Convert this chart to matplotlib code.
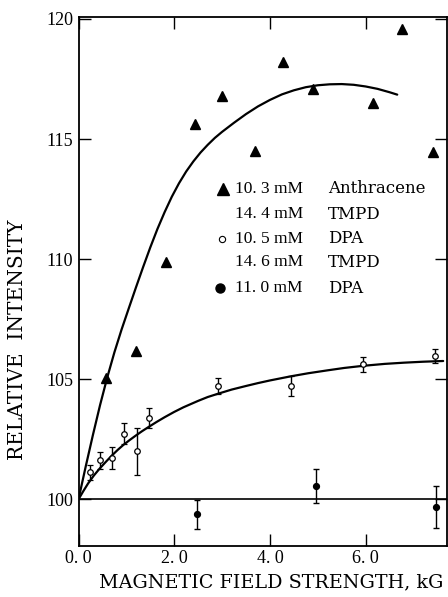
import matplotlib
matplotlib.use("Agg")
import matplotlib.pyplot as plt

# ---- data ----
anth_x = [0.57, 1.20, 1.82, 2.43, 2.99, 3.68, 4.28, 4.90, 6.15, 6.77, 7.41]
anth_y = [105.04, 106.18, 109.89, 115.61, 116.8, 114.5, 118.2, 117.1, 116.5, 119.6, 114.45]

anth_curve_x = [0, 0.15, 0.3, 0.45, 0.6, 0.75, 0.9, 1.05, 1.2, 1.35, 1.5, 1.65, 1.8,
                1.95, 2.1, 2.25, 2.4, 2.55, 2.7, 2.85, 3.0, 3.25, 3.5, 3.75, 4.0,
                4.25, 4.5, 4.75, 5.0, 5.25, 5.5, 5.75, 6.0, 6.25, 6.5, 6.66]
anth_curve_y = [100.0, 101.36, 102.67, 103.92, 105.07, 106.12, 107.07, 107.95, 108.82,
                109.67, 110.49, 111.26, 111.96, 112.6, 113.16, 113.65, 114.07, 114.44,
                114.76, 115.05, 115.30, 115.68, 116.04, 116.36, 116.63, 116.86, 117.03,
                117.16, 117.24, 117.28, 117.29, 117.26, 117.19, 117.09, 116.95, 116.85]

dpa_x = [0.24, 0.45, 0.71, 0.95, 1.22, 1.47, 2.92, 4.45, 5.95, 7.44]
dpa_y = [101.12, 101.62, 101.72, 102.74, 102.0, 103.37, 104.71, 104.71, 105.62, 105.97]
dpa_err = [0.33, 0.35, 0.45, 0.42, 0.97, 0.42, 0.33, 0.42, 0.31, 0.30]

dpa_curve_x = [0, 0.1, 0.2, 0.32, 0.45, 0.58, 0.7, 0.82, 0.94, 1.07, 1.2, 1.33, 1.47,
               1.63, 1.8, 2.0, 2.19, 2.35, 2.5, 2.7, 2.92, 3.2, 3.5, 3.75, 4.0,
               4.43, 4.8, 5.2, 5.55, 5.95, 6.4, 6.8, 7.2, 7.62]
dpa_curve_y = [100.0, 100.34, 100.66, 100.99, 101.3, 101.58, 101.83, 102.06, 102.27,
               102.47, 102.66, 102.84, 103.02, 103.22, 103.42, 103.64, 103.83, 103.97,
               104.1, 104.26, 104.4, 104.57, 104.72, 104.84, 104.95, 105.12, 105.25,
               105.37, 105.47, 105.56, 105.64, 105.69, 105.73, 105.76]

dot_x = [2.48, 4.97, 7.46]
dot_y = [99.375, 100.55, 99.68]
dot_err = [0.6, 0.7, 0.87]

baseline = 100

xticks = [0, 2, 4, 6]
xticklabels = ["0. 0", "2. 0", "4. 0", "6. 0"]
yticks = [100, 105, 110, 115, 120]
yticklabels = ["100", "105", "110", "115", "120"]

legend_conc = ["10. 3 mM", "14. 4 mM", "10. 5 mM", "14. 6 mM", "11. 0 mM"]
legend_names = ["Anthracene", "TMPD", "DPA", "TMPD", "DPA"]

W, H = 448, 597
fig = plt.figure(figsize=(W / 100, H / 100), dpi=100)
ax = fig.add_axes([78.5 / W, 1 - 545.7 / H, (447 - 78.5) / W, (545.7 - 17.3) / H])

ax.plot(anth_curve_x, anth_curve_y, color="black", lw=1.6, solid_capstyle="round",
        solid_joinstyle="round")
ax.plot(anth_x, anth_y, linestyle="none", marker="^", ms=7, color="black")
ax.plot(dpa_curve_x, dpa_curve_y, color="black", lw=1.6, solid_capstyle="round",
        solid_joinstyle="round")
ax.errorbar(dpa_x, dpa_y, yerr=dpa_err, fmt="o", ms=4, mfc="white", mec="black",
            mew=0.9, ecolor="black", elinewidth=1.0, capsize=2.5, capthick=1.0)
ax.errorbar(dot_x, dot_y, yerr=dot_err, fmt="o", ms=4.2, mfc="black", mec="black",
            ecolor="black", elinewidth=1.0, capsize=2.5, capthick=1.0)
ax.axhline(baseline, color="black", lw=1.2)

ax.set_xlim(0, 7.70)
ax.set_ylim(98.07, 120.07)
ax.set_xticks(xticks)
ax.set_xticklabels(xticklabels, fontfamily="Liberation Serif", fontsize=13)
ax.set_yticks(yticks)
ax.set_yticklabels(yticklabels, fontfamily="Liberation Serif", fontsize=13)
ax.tick_params(direction="in", top=True, right=True, length=8.5, width=1.0)
ax.tick_params(axis="x", pad=3)
ax.tick_params(axis="y", pad=4)
for s in ax.spines.values():
    s.set_linewidth(1.3)

# legend block
rows_y = [189, 214.3, 239, 262.3, 288.3]
for i, (c, n) in enumerate(zip(legend_conc, legend_names)):
    fy = 1 - rows_y[i] / H
    fig.text(235 / W, fy, c, fontfamily="Liberation Serif", fontsize=12.5,
             ha="left", va="center")
    fig.text(328 / W, fy, n, fontfamily="DejaVu Serif", fontsize=12,
             ha="left", va="center")
ax.plot([223.3 / W], [1 - 189 / H], transform=fig.transFigure, marker="^", ms=8,
        color="black", clip_on=False)
ax.plot([221.7 / W], [1 - 239 / H], transform=fig.transFigure, marker="o", ms=4.5,
        mfc="white", mec="black", mew=0.8, clip_on=False)
ax.plot([220 / W], [1 - 288.3 / H], transform=fig.transFigure, marker="o", ms=6.5,
        color="black", clip_on=False)

fig.text(271 / W, 1 - 582 / H, "MAGNETIC FIELD STRENGTH, kG", fontfamily="DejaVu Serif",
         fontsize=13.8, ha="center", va="center")
fig.text(18 / W, 1 - 340 / H, "RELATIVE  INTENSITY", fontfamily="DejaVu Serif",
         fontsize=14.5, ha="center", va="center", rotation=90)

fig.savefig("out.png", dpi=100, facecolor="white")
